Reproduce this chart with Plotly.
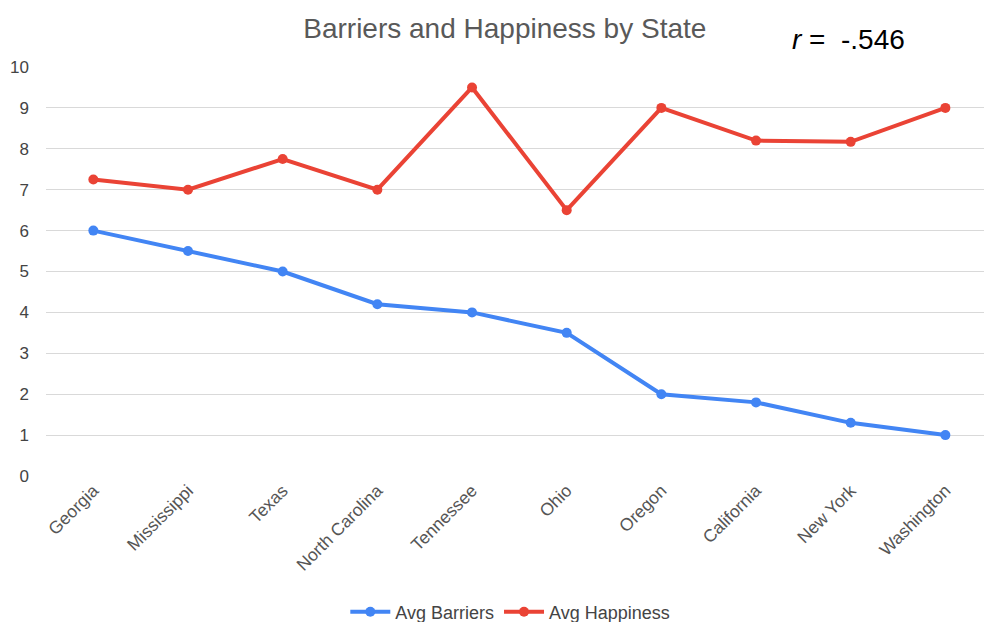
import plotly.graph_objects as go

states = ["Georgia", "Mississippi", "Texas", "North Carolina", "Tennessee",
          "Ohio", "Oregon", "California", "New York", "Washington"]
avg_barriers = [6.0, 5.5, 5.0, 4.2, 4.0, 3.5, 2.0, 1.8, 1.3, 1.0]
avg_happiness = [7.25, 7.0, 7.75, 7.0, 9.5, 6.5, 9.0, 8.2, 8.17, 9.0]
y_ticks = list(range(0, 11))

BLUE = "#4285F4"
RED = "#EA4335"
FONT = "Liberation Sans, Arial, sans-serif"

fig = go.Figure()
fig.add_trace(go.Scatter(
    x=list(range(len(states))), y=avg_barriers, name="Avg Barriers",
    mode="lines+markers",
    line=dict(color=BLUE, width=4),
    marker=dict(color=BLUE, size=10),
))
fig.add_trace(go.Scatter(
    x=list(range(len(states))), y=avg_happiness, name="Avg Happiness",
    mode="lines+markers",
    line=dict(color=RED, width=4),
    marker=dict(color=RED, size=10),
))

fig.update_layout(
    width=984, height=622,
    margin=dict(l=46, r=0, t=67, b=146),
    paper_bgcolor="white", plot_bgcolor="white",
    font=dict(family=FONT, color="#444444", size=17),
    title=dict(text="Barriers and Happiness by State", x=0.513, xanchor="center",
               y=1 - 28 / 622, yanchor="middle", yref="container",
               font=dict(size=28, color="#595959", family=FONT)),
    showlegend=True,
    legend=dict(orientation="h", x=0.495, xanchor="center", yref="container",
                y=1 - 612 / 622, yanchor="middle",
                font=dict(size=18, color="#444444"), itemwidth=40),
    xaxis=dict(
        range=[-0.5, 9.408],
        tickmode="array", tickvals=list(range(len(states))), ticktext=states,
        tickangle=-45, showgrid=False, zeroline=False, showline=False,
        ticks="", tickfont=dict(size=17.5, color="#555555"),
    ),
    yaxis=dict(
        range=[0, 10], tickmode="array", tickvals=y_ticks,
        ticktext=[str(v) for v in y_ticks],
        showgrid=True, gridcolor="#d9d9d9", gridwidth=1,
        zeroline=False, showline=False, ticks="",
        ticklabelstandoff=16, tickfont=dict(size=17, color="#444444"),
    ),
    annotations=[dict(
        text="<i>r</i> =  -.546", xref="paper", yref="paper",
        x=(790 - 46) / 938, xanchor="left", y=1 + (67 - 40) / 409, yanchor="middle",
        showarrow=False, font=dict(size=28, color="#000000", family=FONT),
    )],
)

fig.write_html("out.html")
